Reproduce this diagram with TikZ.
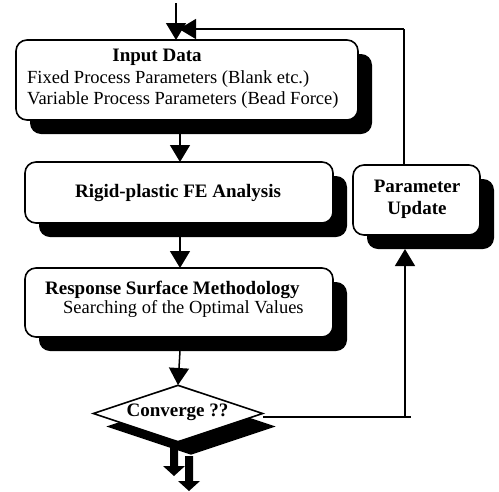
\documentclass[tikz,border=0pt]{standalone}
\usepackage{fontspec}
\setmainfont{Liberation Serif}
\usetikzlibrary{shapes.geometric,shadows,arrows.meta}
\begin{document}
\begin{tikzpicture}[x=1pt,y=-1pt,
  boxsh/.style={draw=black,line width=1.6pt,fill=white,rounded corners=11pt,inner sep=0pt,
    drop shadow={shadow xshift=14pt,shadow yshift=-14pt,fill=black,opacity=1}},
  diash/.style={diamond,draw=black,line width=1.6pt,fill=white,inner sep=0pt,aspect=3,
    drop shadow={shadow xshift=13pt,shadow yshift=-13pt,fill=black,opacity=1}},
  arr/.style={line width=1.5pt,-{Triangle[length=17pt,width=20pt]}},
  conn/.style={line width=1.5pt},
  reg/.style={font=\fontsize{18.5}{21}\selectfont,inner sep=0pt},
  bld/.style={font=\fontsize{19}{22}\selectfont\bfseries,inner sep=0pt},
  blockarr/.style={fill=black}]
\useasboundingbox (0,0) rectangle (499,491);

% boxes
\node[boxsh,minimum width=342pt,minimum height=80pt] (inp) at (187,80) {};
\node[boxsh,minimum width=308pt,minimum height=61pt] (fea) at (179,192.5) {};
\node[boxsh,minimum width=308pt,minimum height=69pt] (rsm) at (179,302.5) {};
\node[boxsh,minimum width=127pt,minimum height=70pt] (par) at (416.5,200) {};
\node[diash,minimum width=170pt,minimum height=57pt] (dia) at (178,413.5) {};

% texts
\node[bld] (t1) at (157,57) {Input Data};
\node[reg,anchor=west] (t2) at (27,79) {Fixed Process Parameters (Blank etc.)};
\node[reg,anchor=west] (t3) at (27,100) {Variable Process Parameters (Bead Force)};
\node[bld] (t4) at (178,193) {Rigid-plastic FE Analysis};
\node[bld,align=center] (t5) at (417,199) {Parameter\\Update};
\node[bld,anchor=west] (t6) at (45,290) {Response Surface Methodology};
\node[reg,anchor=west] (t7) at (63,309) {Searching of the Optimal Values};
\node[bld] (t8) at (177.5,412) {Converge ??};

% coordinates
\coordinate (start) at (176,3);
\coordinate (inTop) at (176,40);
\coordinate (fbEnd) at (179,29);
\coordinate (fbCorner) at (404,29);
\coordinate (parTop) at (404,165);
\coordinate (inBot) at (180,134);
\coordinate (feaTop) at (180,162);
\coordinate (feaBot) at (180,237);
\coordinate (rsmTop) at (180,268);
\coordinate (rsmBot) at (180,351);
\coordinate (diaTop) at (178,385);
\coordinate (diaR) at (263,417);
\coordinate (lineR) at (411,417);
\coordinate (upBot) at (405,417);
\coordinate (parBot) at (405,249);

% connectors
\draw[arr] (start) -- (inTop);
\draw[conn] (parTop) -- (fbCorner);
\draw[arr] (fbCorner) -- (fbEnd);
\draw[arr] (inBot) -- (feaTop);
\draw[arr] (feaBot) -- (rsmTop);
\draw[arr] (rsmBot) -- (diaTop);
\draw[conn] (diaR) -- (lineR);
\draw[arr] (upBot) -- (parBot);

% exit block arrow with its shadow
\fill[blockarr] (185,456) -- (193,456) -- (193,481) -- (200,481) -- (189,491) -- (178,481) -- (185,481) -- cycle;
\fill[blockarr] (170,441) -- (178,441) -- (178,466) -- (185,466) -- (174,476) -- (163,466) -- (170,466) -- cycle;
\end{tikzpicture}
\end{document}
